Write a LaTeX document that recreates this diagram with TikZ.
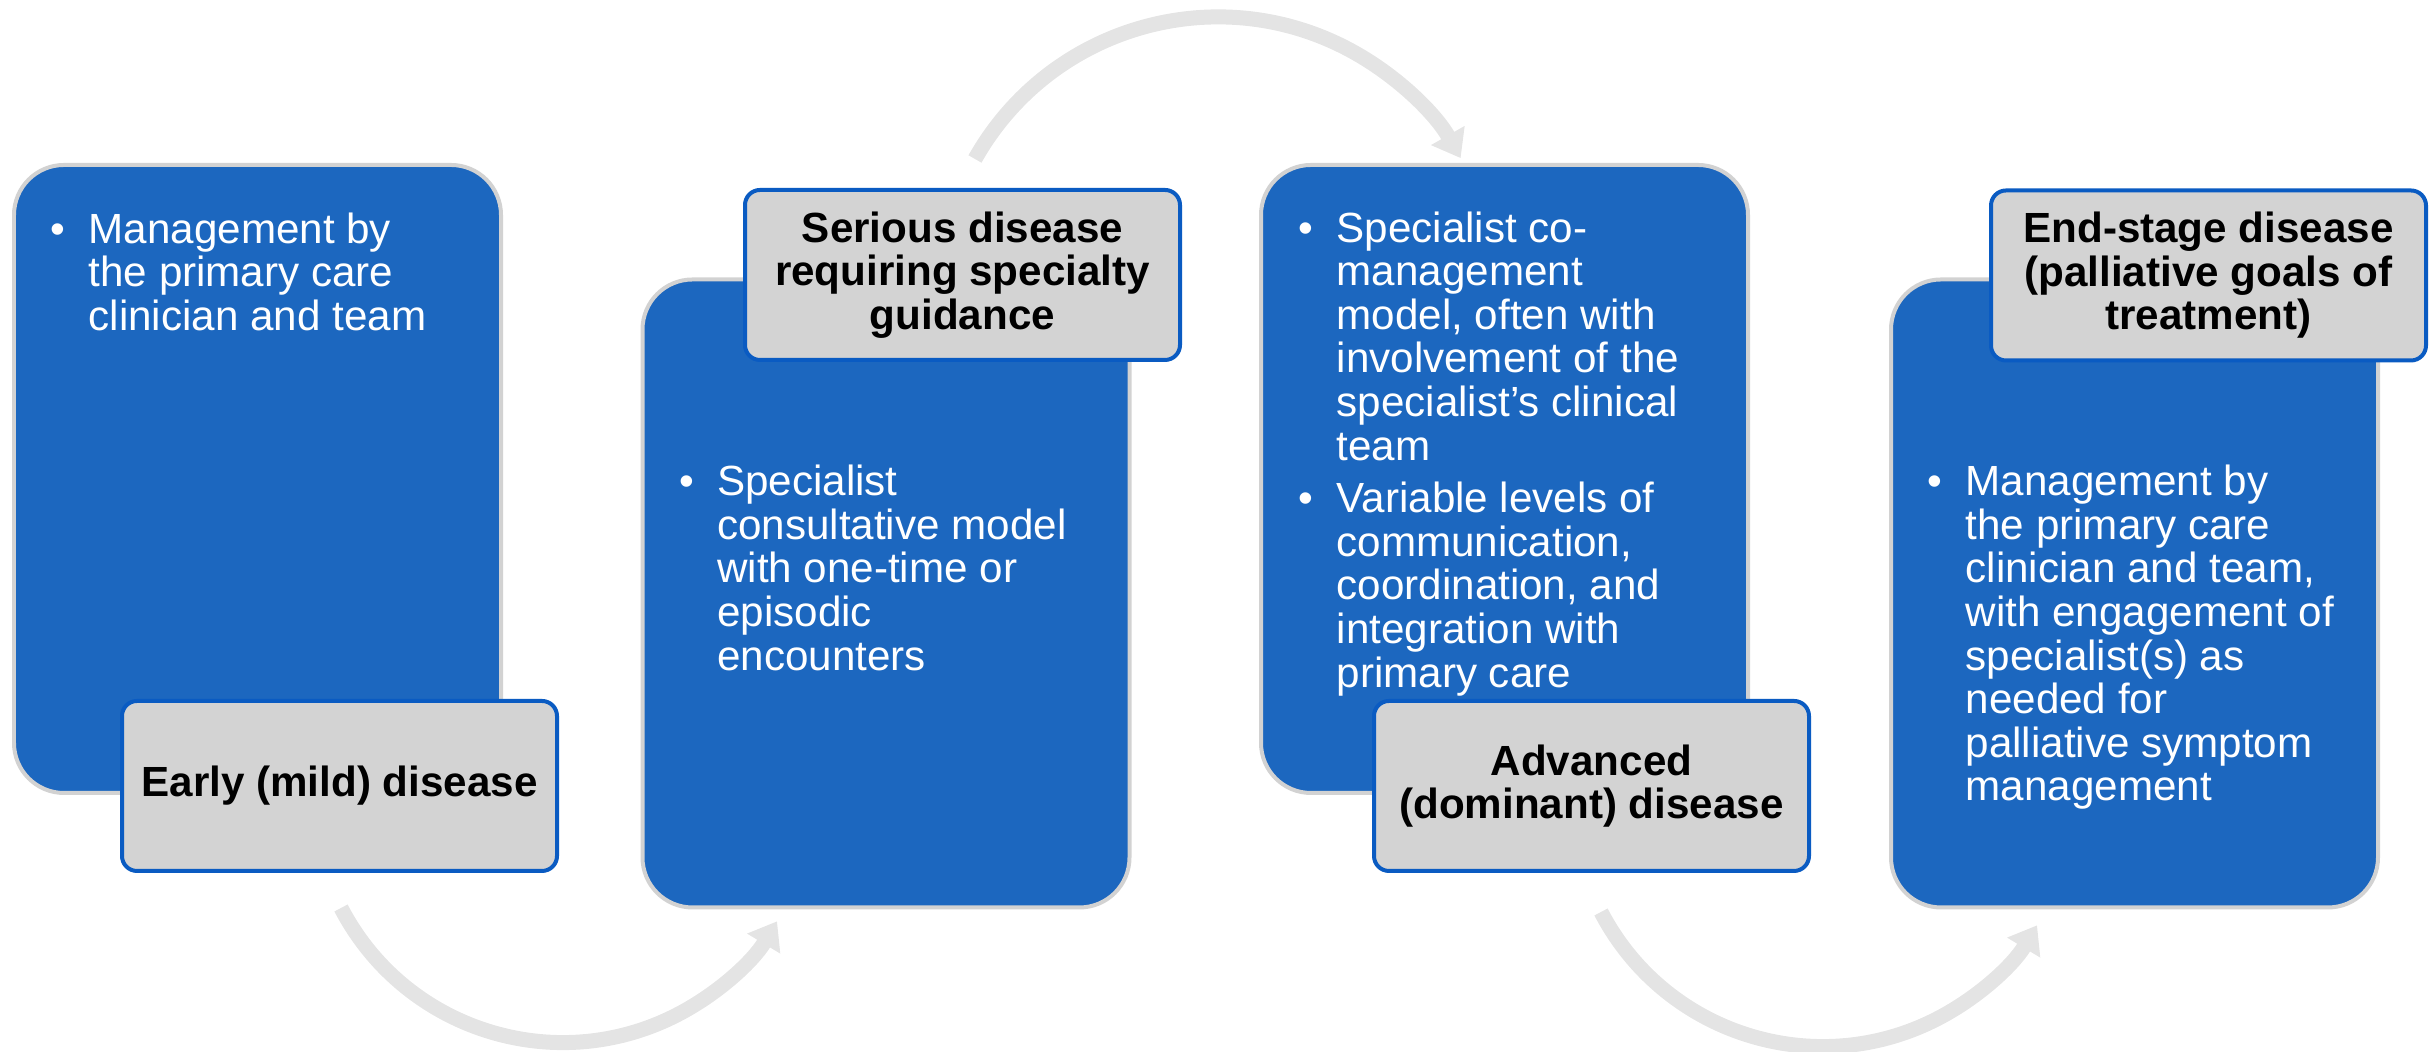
\documentclass[tikz,border=0pt]{standalone}
\usepackage{fontspec}
\setmainfont{Liberation Sans}
\usepackage{tikz}
\usetikzlibrary{positioning,arrows.meta}

\definecolor{stageblue}{HTML}{1C67BF}
\definecolor{stageedge}{HTML}{D2D2D2}
\definecolor{tagfill}{HTML}{D3D3D3}
\definecolor{tagline}{HTML}{0A5BC2}
\definecolor{arrowgray}{HTML}{E4E4E4}
\newcommand{\stagebullet}{\llap{\textbullet\hspace{0.23cm}}}

\begin{document}
\begin{tikzpicture}[
  stagebox/.style={draw=stageedge, line width=0.04cm, fill=stageblue, rounded corners=0.5cm,
    minimum width=4.87cm, minimum height=6.28cm},
  tagbox/.style={draw=tagline, line width=0.04cm, fill=tagfill, rounded corners=0.15cm,
    minimum width=4.35cm, minimum height=1.70cm, align=center,
    font=\fontsize{12}{12.4}\selectfont\bfseries},
  stagetext/.style={text=white, align=left, inner sep=0pt, font=\fontsize{12}{12.4}\selectfont},
  flowarrow/.style={draw=arrowgray, line width=0.15cm, -{Triangle[width=0.37cm,length=0.26cm]}}
]
\useasboundingbox (0,0) rectangle (24.35,10.52);

% Pfeile
\coordinate (a1) at (3.41,1.44);
\coordinate (a2) at (9.75,8.93);
\coordinate (a3) at (16.01,1.40);
\draw[flowarrow] (a1) arc[start angle=207.5, end angle=329, radius=2.5];
\draw[flowarrow] (a2) arc[start angle=150.6, end angle=29.6, radius=2.79];
\draw[flowarrow] (a3) arc[start angle=207.5, end angle=329, radius=2.5];

% Stufe 1
\node[stagebox] (s1) at (2.575,5.73) {};
\node[stagetext, below right=0.49cm and 0.76cm of s1.north west] (t1)
  {\stagebullet Management by\\the primary care\\clinician and team};
\node[tagbox] (g1) at (3.395,2.66) {\raisebox{-0.05cm}{Early (mild) disease}};

% Stufe 2
\node[stagebox] (s2) at (8.86,4.585) {};
\node[tagbox] (g2) at (9.625,7.77) {Serious disease\\requiring specialty\\guidance};
\node[stagetext, below right=1.87cm and 0.76cm of s2.north west] (t2)
  {\stagebullet Specialist\\consultative model\\with one-time or\\episodic\\encounters};

% Stufe 3
\node[stagebox] (s3) at (15.045,5.73) {};
\node[stagetext, below right=0.48cm and 0.77cm of s3.north west] (t3)
  {\stagebullet Specialist co-\\management\\model, often with\\involvement of the\\specialist’s clinical\\team\\[0.09cm]
   \stagebullet Variable levels of\\communication,\\coordination, and\\integration with\\primary care};
\node[tagbox] (g3) at (15.915,2.66) {Advanced\\(dominant) disease};

% Stufe 4
\node[stagebox] (s4) at (21.345,4.585) {};
\node[tagbox] (g4) at (22.085,7.765) {End-stage disease\\(palliative goals of\\treatment)};
\node[stagetext, below right=1.87cm and 0.76cm of s4.north west] (t4)
  {\stagebullet Management by\\the primary care\\clinician and team,\\with engagement of\\specialist(s) as\\needed for\\palliative symptom\\management};
\end{tikzpicture}
\end{document}
